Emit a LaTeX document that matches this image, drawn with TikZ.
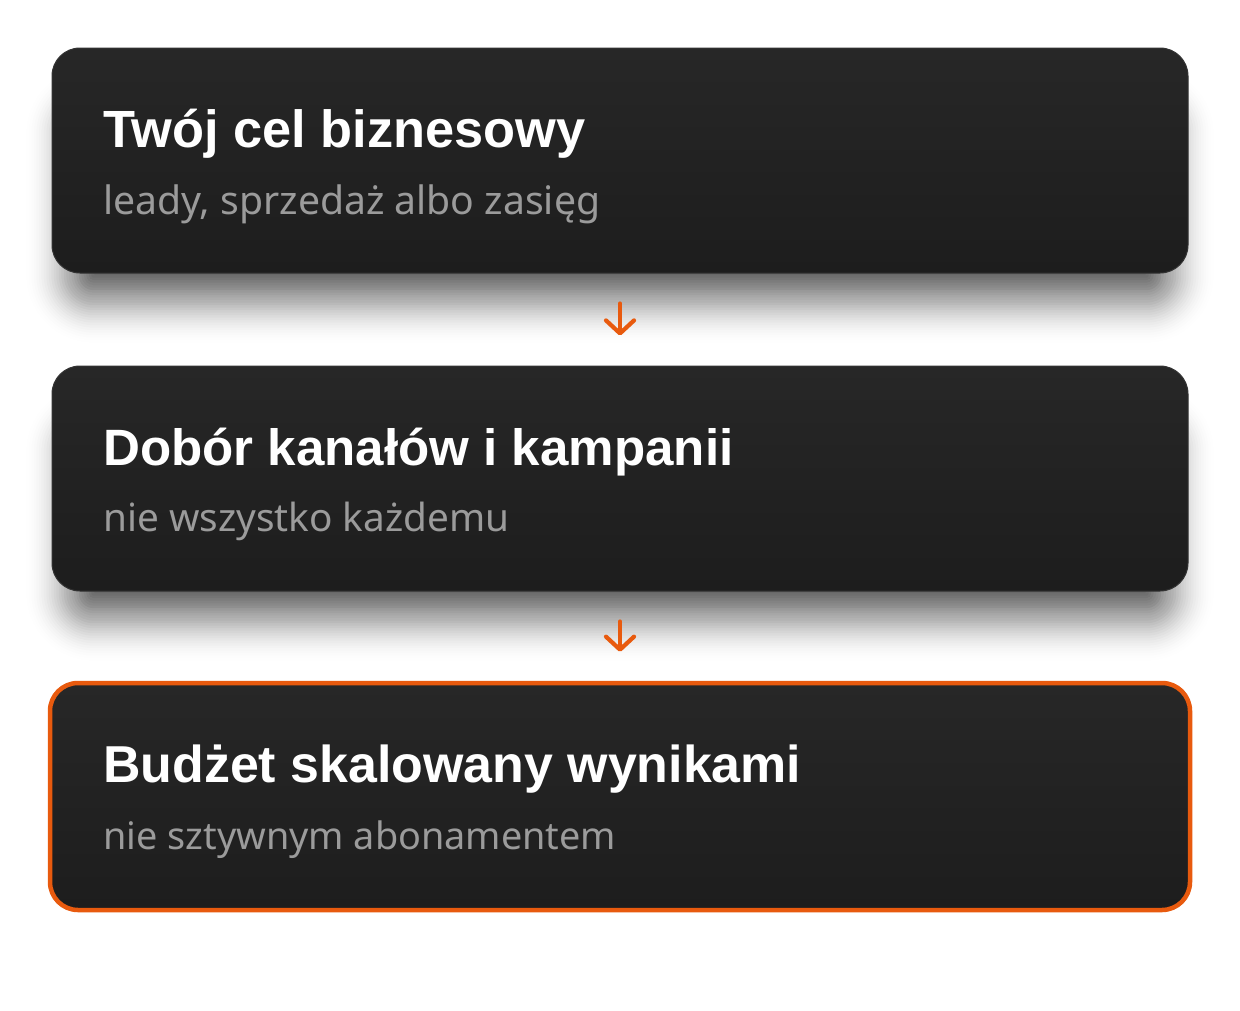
\documentclass[tikz,border=0pt]{standalone}
\usepackage{fontspec}
\setmainfont{Noto Sans}
\newfontfamily\titlefont{Liberation Sans}
\usetikzlibrary{arrows.meta,calc}
\definecolor{cardtop}{HTML}{272727}
\definecolor{cardbot}{HTML}{1D1D1D}
\definecolor{cardline}{HTML}{333333}
\definecolor{subgray}{HTML}{9B9B9B}
\definecolor{accent}{HTML}{E85A0E}
\newcommand{\fitw}[2]{\resizebox{#1}{!}{#2}}
% soft drop shadow: core = card shrunk by 28pt, moved down 44pt, blurred by layering
\newcommand{\cardshadow}[1]{%
  \foreach \e [evaluate=\e as \op using {0.06*(58-\e)/82},
               evaluate=\e as \rc using {max(2,14+\e)}] in {-24,-21.5,...,58}{%
    \fill[black, opacity=\op, rounded corners=\rc pt]
      ($(#1.south west)+(28-\e,16+\e)$) rectangle ($(#1.north east)+(-28+\e,72-\e)$);
  }}
\tikzset{
  cardgeom/.style={rectangle, minimum width=1136pt, minimum height=225pt, inner sep=0pt},
  card/.style={cardgeom, rounded corners=28pt,
    top color=cardtop, bottom color=cardbot, draw=cardline, line width=1pt},
  hilite/.style={draw=accent, line width=4.5pt, minimum width=1140pt, minimum height=227pt},
  ttl/.style={anchor=base west, inner sep=0pt, text=white, font=\titlefont\bfseries},
  sub/.style={anchor=base west, inner sep=0pt, text=subgray},
  flow/.style={draw=accent, line width=4.2pt, line cap=round,
    -{Straight Barb[length=13pt,width=28pt,line cap=round,line join=round]}}
}
\begin{document}
\begin{tikzpicture}[x=1pt,y=-1pt]
\useasboundingbox (0,0) rectangle (1240,1010);
\fill[white] (0,0) rectangle (1240,1010);
\node[cardgeom] (sh1) at (620,160.5) {};
\node[cardgeom] (sh2) at (620,478.5) {};
\cardshadow{sh1}
\cardshadow{sh2}
\node[card] (b1) at (620,160.5) {};
\node[card] (b2) at (620,478.5) {};
\node[card, hilite] (b3) at (620,796.5) {};
\node[ttl] (t1) at (103,147) {\fitw{482pt}{Twój cel biznesowy}};
\node[sub] (s1) at (103,214) {\fitw{497pt}{leady, sprzedaż albo zasięg}};
\node[ttl] (t2) at (103,465) {\fitw{630pt}{Dobór kanałów i kampanii}};
\node[sub] (s2) at (103,531) {\fitw{406pt}{nie wszystko każdemu}};
\node[ttl] (t3) at (103,782) {\fitw{698pt}{Budżet skalowany wynikami}};
\node[sub] (s3) at (103,849) {\fitw{513pt}{nie sztywnym abonamentem}};
\draw[flow] ($(b1.south)+(0,30)$) -- ($(b2.north)+(0,-30)$);
\draw[flow] ($(b2.south)+(0,30)$) -- ($(b3.north)+(0,-29)$);
\end{tikzpicture}
\end{document}
